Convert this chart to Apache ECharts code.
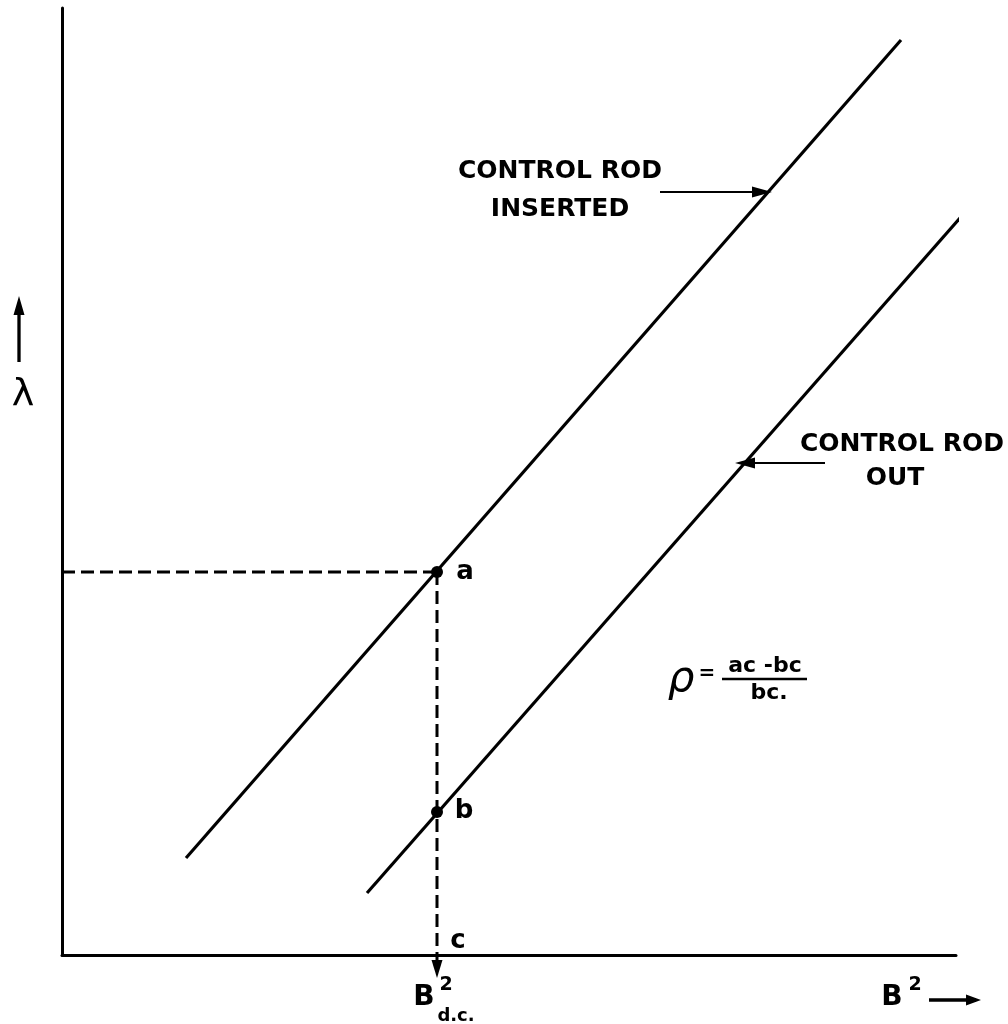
<!DOCTYPE html>
<html><head><meta charset="utf-8">
<script src="https://cdn.jsdelivr.net/npm/echarts@6/dist/echarts.min.js"></script>
<style>html,body{margin:0;padding:0;background:#fff}#c{width:1008px;height:1024px}</style>
</head><body><div id="c"></div>
<script>
// Schematic data (arbitrary units: B^2 on x, lambda on y)
const insertedLine = [[124, 97], [839, 915]];   // control rod inserted
const outLine = [[305, 62], [920, 762]];        // control rod out
const pointA = [375, 383];
const pointB = [375, 143];
const guideH = [[0, 383], [375, 383]];
const guideV = [[375, 383], [375, -8]];
const guideVHead = [375, -14];
const xArrowCenter = [893, -45];
const yArrowCenter = [-43, 626];
const pointLabels = ['a', 'b', 'c'];

const F = '"DejaVu Sans", sans-serif';
const ARROW = 'path://M5,0 L10,19 L6.5,19 L6.5,66 L3.5,66 L3.5,19 L0,19 Z';
const chart = echarts.init(document.getElementById('c'), null, {renderer: 'canvas'});

function txt(x, y, s, size, extra) {
  return {type: 'text', x: x, y: y, style: Object.assign({
    text: s, font: 'bold ' + size + 'px ' + F, fill: '#000', align: 'center', verticalAlign: 'middle'
  }, extra || {})};
}

const arrowML = (from, to) => ({
  silent: true, symbol: ['none', 'triangle'], symbolSize: [11, 20],
  label: {show: false}, lineStyle: {color: '#000', width: 2.2, type: 'solid'},
  itemStyle: {color: '#000'},
  data: [[{coord: from}, {coord: to}]]
});
const plainLine = (data, extra) => Object.assign({type: 'line', data: data, showSymbol: false, clip: false, silent: true,
  lineStyle: {color: '#000', width: 2}}, extra || {});
const head = (pt, rot, size, sym) => ({type: 'scatter', data: [pt], symbol: sym || 'triangle', symbolSize: size, symbolRotate: rot,
  symbolKeepAspect: false, clip: false, silent: true, itemStyle: {color: '#000', opacity: 1}});

chart.setOption({
  animation: false,
  backgroundColor: '#fff',
  grid: {left: 62, top: 8, width: 894, height: 947},
  xAxis: {type: 'value', min: 0, max: 894, axisLine: {show: true, onZero: false, lineStyle: {color: '#000', width: 3}},
    axisTick: {show: false}, axisLabel: {show: false}, splitLine: {show: false}},
  yAxis: {type: 'value', min: 0, max: 947, axisLine: {show: true, onZero: false, lineStyle: {color: '#000', width: 3}},
    axisTick: {show: false}, axisLabel: {show: false}, splitLine: {show: false}},
  series: [
    plainLine(insertedLine, {lineStyle: {color: '#000', width: 3.2}, markLine: arrowML([598, 763], [700, 763])}),
    plainLine(outLine, {lineStyle: {color: '#000', width: 3.2}, markLine: arrowML([763, 492], [683, 492])}),
    plainLine(guideH, {lineStyle: {color: '#000', width: 3, type: [13, 6]}}),
    plainLine(guideV, {lineStyle: {color: '#000', width: 3, type: [13, 6]}}),
    head(guideVHead, 180, [11, 18]),
    head(xArrowCenter, -90, [11, 52], ARROW),
    head(yArrowCenter, 0, [11, 66], ARROW),
    {type: 'scatter', data: [pointA, pointB], symbolSize: 12, clip: false, silent: true,
      itemStyle: {color: '#000', opacity: 1}}
  ],
  graphic: [
    txt(560, 171, 'CONTROL ROD', 25),
    txt(560, 209, 'INSERTED', 25),
    txt(902, 444, 'CONTROL ROD', 25),
    txt(895, 478, 'OUT', 25),
    txt(465, 572, pointLabels[0], 26),
    txt(464, 811, pointLabels[1], 26),
    txt(458, 941, pointLabels[2], 26),
    txt(424, 998, 'B', 28),
    txt(446, 985, '2', 19),
    txt(456, 1016, 'd.c.', 18),
    txt(892, 998, 'B', 28),
    txt(915, 985, '2', 19),
    txt(23, 395, 'λ', 38, {font: '38px ' + F}),
    txt(681, 680, 'ρ', 42, {font: 'italic 42px ' + F}),
    txt(707, 674, '=', 20),
    txt(765, 666, 'ac -bc', 22),
    {type: 'line', shape: {x1: 722, y1: 679, x2: 807, y2: 679}, style: {stroke: '#000', lineWidth: 2.5}},
    txt(769, 693, 'bc.', 22)
  ]
});
</script></body></html>
